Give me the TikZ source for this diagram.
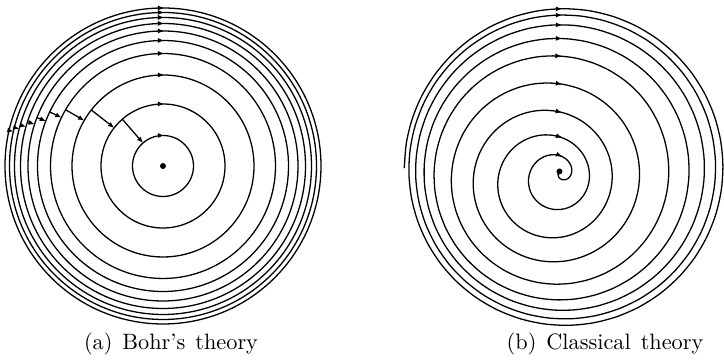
\documentclass[tikz,border=0pt]{standalone}
\usepackage{tikz}
\usepackage{amsmath}
\usetikzlibrary{arrows.meta}

\tikzset{
    orbit/.style={line width=0.55pt},
    jump/.style={line width=0.55pt, -{Latex[length=2.6pt,width=2.2pt]}},
    caption/.style={anchor=base, font=\fontsize{9.5}{11}\selectfont},
    declare function={
        spbump(\q) = (\q<27) ? exp(-(((\q-27)/13)^2)) : exp(-(((\q-27)/7.3)^2));
        sprho(\q) = 160.5 - ((\q<17.5) ? (0.915*\q+0.0897*\q*\q) : (6.3*\q-66.8));
        spx(\q) = 565 - 16.5*spbump(\q) + sprho(\q)*cos(180-90*\q);
        spy(\q) = 194 - 12.5*spbump(\q) + sprho(\q)*sin(180-90*\q);
    }
}

\begin{document}
\begin{tikzpicture}[x=0.015cm,y=0.015cm]
        \useasboundingbox (0,0) rectangle (724,362);
        %nuclei
            \coordinate (nucA) at (163,196);
            \coordinate (nucB) at ({spx(35.8)},{spy(35.8)});
        % Bohr orbits
            \begin{scope}[shift={(nucA)}]
                \foreach \r in {30.5,62,91,112.5,125.5,135,142.5,148.5,153.5,158}{
                    \draw[orbit] (0,0) circle (\r);
                    \draw[jump] (-1,\r) -- (1,\r);
                }
            % jumps
                \foreach \a/\ro/\ri in {131/62/30.5, 142/91/62, 150/112.5/91,
                        154.5/125.5/112.5, 159/135/125.5, 162/142.5/135,
                        164/148.5/142.5, 165.5/153.5/148.5, 167/158/153.5}
                    \draw[jump] (\a:\ro) -- (\a:\ri);
            \end{scope}
            \fill (nucA) circle (3);
        % classical spiral
            \draw[orbit] plot[variable=\q, domain=0:35.8, samples=361, smooth]
                ({spx(\q)},{spy(\q)});
            \foreach \q in {0.989,4.991,8.997,13.01,17.03,21.07,25.12,29.18,33.18}
                \draw[jump] ({spx(\q-0.02)},{spy(\q-0.02)}) -- ({spx(\q)},{spy(\q)});
            \fill (nucB) circle (3);
        %nodes
            \node[caption] (capA) at (171,12) {(a)\hspace{0.45em}Bohr's\hspace{0.45em}theory};
            \node[caption] (capB) at (605,12) {(b)\hspace{0.45em}Classical\hspace{0.45em}theory};
\end{tikzpicture}
\end{document}
